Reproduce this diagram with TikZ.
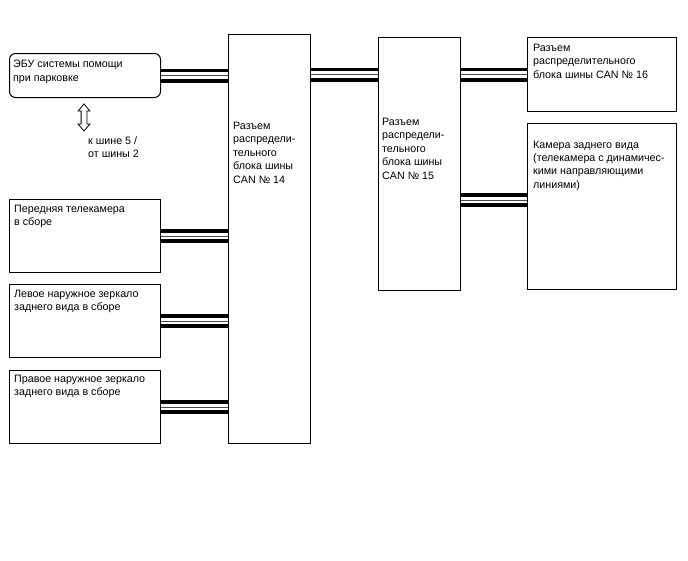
\documentclass[tikz,border=0pt]{standalone}
\usepackage{fontspec}
\setmainfont{Liberation Sans}
\usepackage{tikz}
\usetikzlibrary{shapes.arrows}

\begin{document}
\begin{tikzpicture}[
    x=1pt,y=-1pt,
    unit/.style={draw,line width=1pt,inner sep=0pt,anchor=north west},
    ecubox/.style={unit,rounded corners=6pt},
    lbl/.style={anchor=north west,inner sep=0pt,align=left,font=\fontsize{10.7}{13.4}\selectfont},
    bus/.style={line width=14pt,postaction={draw=white,line width=6.5pt},postaction={draw=black!70,line width=0.9pt}},
    updown/.style={double arrow,draw,line width=0.8pt,rotate=90,minimum height=27pt,
        inner xsep=0pt,inner ysep=2.5pt,double arrow head extend=3pt,double arrow tip angle=80}
]
\useasboundingbox (0,0) rectangle (688,560);

%%% Left column: units wired to connector 14
\node[ecubox,minimum width=151pt,minimum height=44pt] (ecu) at (9,53) {};
\node[lbl] (ecut) at ([shift={(4,7)}]ecu.north west) {ЭБУ системы помощи\\при парковке};
\node[updown] (arr) at (84,117.5) {};
\node[lbl] (arrt) at (88,136.5) {к шине 5 /\\от шины 2};

\node[unit,minimum width=151pt,minimum height=73pt] (front) at (9,199) {};
\node[lbl] (frontt) at ([shift={(5,6)}]front.north west) {Передняя телекамера\\в сборе};
\node[unit,minimum width=151pt,minimum height=73pt] (lmir) at (9,284) {};
\node[lbl] (lmirt) at ([shift={(5,6)}]lmir.north west) {Левое наружное зеркало\\заднего вида в сборе};
\node[unit,minimum width=151pt,minimum height=73pt] (rmir) at (9,370) {};
\node[lbl] (rmirt) at ([shift={(5,5)}]rmir.north west) {Правое наружное зеркало\\заднего вида в сборе};

%%% Connectors 14 and 15
\node[unit,minimum width=82pt,minimum height=409pt] (c14) at (228,34) {};
\node[lbl] (c14t) at ([shift={(5,88)}]c14.north west) {Разъем\\распредели-\\тельного\\блока шины\\CAN № 14};
\node[unit,minimum width=82pt,minimum height=253pt] (c15) at (378,37) {};
\node[lbl] (c15t) at ([shift={(4,81)}]c15.north west) {Разъем\\распредели-\\тельного\\блока шины\\CAN № 15};

%%% Right column
\node[unit,minimum width=149pt,minimum height=74pt] (c16) at (527,37) {};
\node[lbl] (c16t) at ([shift={(6,7)}]c16.north west) {Разъем\\распределительного\\блока шины CAN № 16};
\node[unit,minimum width=149pt,minimum height=166pt] (cam) at (527,123) {};
\node[lbl] (camt) at ([shift={(6,17.5)}]cam.north west) {Камера заднего вида\\(телекамера с динамичес-\\кими направляющими\\линиями)};

% bus wires
\draw[bus] (ecu.east) -- (ecu.east -| c14.west);
\draw[bus] (front.east) -- (front.east -| c14.west);
\draw[bus] (lmir.east) -- (lmir.east -| c14.west);
\draw[bus] (rmir.east) -- (rmir.east -| c14.west);
\draw[bus] (c16.west -| c14.east) -- (c16.west -| c15.west);
\draw[bus] (c16.west -| c15.east) -- (c16.west);
\draw[bus] ([yshift=6.5pt]cam.west -| c15.east) -- ([yshift=6.5pt]cam.west);
\end{tikzpicture}
\end{document}
